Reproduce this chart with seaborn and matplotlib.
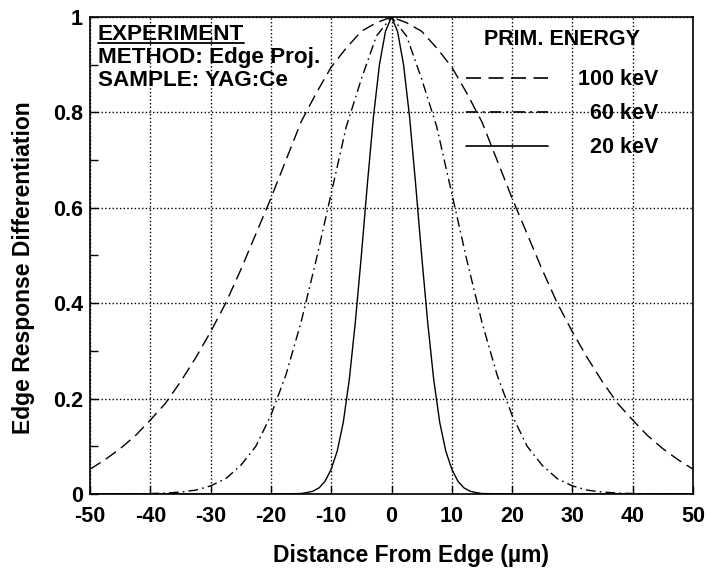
import matplotlib
matplotlib.use("Agg")
import matplotlib.pyplot as plt
import seaborn as sns
import pandas as pd
from matplotlib.lines import Line2D
from matplotlib.ticker import MultipleLocator

# ---- data ----
x_100 = [-50, -47.5, -45, -42.5, -40, -37.5, -35, -32.5, -30, -27.5, -25, -22.5, -20, -17.5, -15, -12.5, -10, -7.5, -5, -2.5,
         0, 2.5, 5, 7.5, 10, 12.5, 15, 17.5, 20, 22.5, 25, 27.5, 30, 32.5, 35, 37.5, 40, 42.5, 45, 47.5, 50]
y_100 = [0.052, 0.072, 0.095, 0.122, 0.155, 0.19, 0.235, 0.285, 0.34, 0.40, 0.47, 0.545, 0.62, 0.70, 0.78, 0.84, 0.895, 0.935, 0.97, 0.988,
         1.0, 0.988, 0.97, 0.935, 0.895, 0.84, 0.78, 0.70, 0.62, 0.545, 0.47, 0.40, 0.34, 0.285, 0.235, 0.19, 0.155, 0.122, 0.095, 0.072, 0.052]

x_60 = [-50, -45, -40, -37.5, -35, -32.5, -30, -27.5, -25, -22.5, -20, -17.5, -15, -12.5, -10, -7.5, -5, -2.5,
        0, 2.5, 5, 7.5, 10, 12.5, 15, 17.5, 20, 22.5, 25, 27.5, 30, 32.5, 35, 37.5, 40, 45, 50]
y_60 = [0.0, 0.0, 0.001, 0.002, 0.004, 0.008, 0.017, 0.032, 0.06, 0.10, 0.165, 0.25, 0.36, 0.49, 0.63, 0.77, 0.87, 0.96,
        1.0, 0.96, 0.87, 0.77, 0.63, 0.49, 0.36, 0.25, 0.165, 0.10, 0.06, 0.032, 0.017, 0.008, 0.004, 0.002, 0.001, 0.0, 0.0]

x_20 = [-50, -40, -30, -20, -15, -14, -13, -12, -11, -10, -9, -8, -7, -6, -5, -4, -3, -2, -1,
        0, 1, 2, 3, 4, 5, 6, 7, 8, 9, 10, 11, 12, 13, 14, 15, 20, 30, 40, 50]
y_20 = [0.0, 0.0, 0.0, 0.0, 0.001, 0.003, 0.006, 0.013, 0.027, 0.052, 0.09, 0.15, 0.24, 0.36, 0.5, 0.65, 0.79, 0.9, 0.97,
        1.0, 0.97, 0.9, 0.79, 0.65, 0.5, 0.36, 0.24, 0.15, 0.09, 0.052, 0.027, 0.013, 0.006, 0.003, 0.001, 0.0, 0.0, 0.0, 0.0]

labels = ["100 keV", "60 keV", "20 keV"]
legend_labels = ["100 keV", "\u200760 keV", "\u200720 keV"]

x_ticks = [-50, -40, -30, -20, -10, 0, 10, 20, 30, 40, 50]
y_ticks = [0, 0.2, 0.4, 0.6, 0.8, 1]
y_ticklabels = ["0", "0.2", "0.4", "0.6", "0.8", "1"]

df = pd.concat([
    pd.DataFrame({"x": x_100, "y": y_100, "energy": labels[0]}),
    pd.DataFrame({"x": x_60, "y": y_60, "energy": labels[1]}),
    pd.DataFrame({"x": x_20, "y": y_20, "energy": labels[2]}),
], ignore_index=True)

sns.set_style("ticks")
plt.rcParams["font.family"] = ["Liberation Sans", "DejaVu Sans"]
plt.rcParams["font.weight"] = "bold"
for k in ["text.color", "axes.labelcolor", "xtick.color", "ytick.color", "axes.edgecolor"]:
    plt.rcParams[k] = "black"

W, H = 707, 569
fig = plt.figure(figsize=(W / 100, H / 100), dpi=100)
ax = fig.add_axes([90 / W, 1 - 494 / H, 603 / W, 477 / H])

dash_styles = {
    labels[0]: (9, 4.5),
    labels[1]: (7, 3, 1.2, 3),
    labels[2]: "",
}
sns.lineplot(data=df, x="x", y="y", style="energy", style_order=labels, dashes=dash_styles,
             color="black", linewidth=1.0, estimator=None, sort=False, legend=False, ax=ax)

ax.set_xlim(-50, 50)
ax.set_ylim(0, 1)
ax.set_xticks(x_ticks)
ax.set_xticklabels([str(v) for v in x_ticks])
ax.set_yticks(y_ticks)
ax.set_yticklabels(y_ticklabels)
ax.yaxis.set_minor_locator(MultipleLocator(0.1))
ax.tick_params(axis="both", which="both", direction="in", colors="black", width=1.0)
ax.tick_params(axis="both", which="major", length=6, labelsize=15.5)
ax.tick_params(axis="y", which="major", pad=5)
ax.tick_params(axis="x", which="major", pad=9)
ax.tick_params(axis="y", which="minor", length=6)
for lab in ax.get_xticklabels() + ax.get_yticklabels():
    lab.set_fontweight("bold")

ax.grid(True, which="major", linestyle=":", color="black", linewidth=1.0)
for s in ax.spines.values():
    s.set_visible(True)
    s.set_color("black")
    s.set_linewidth(1.2)

ax.set_xlabel("Distance From Edge (\u00b5m)", fontsize=16.5, fontweight="bold")
ax.set_ylabel("Edge Response Differentiation", fontsize=16.5, fontweight="bold")
ax.xaxis.set_label_coords((411 - 90) / 603, (494 - 544) / 477)
ax.yaxis.set_label_coords((35 - 90) / 603, (494 - 268) / 477)

# annotation block
tfs = 16.2
t1 = ax.text(0.013, (494 - 40) / 477, "EXPERIMENT", transform=ax.transAxes, fontsize=tfs, fontweight="bold", va="baseline", ha="left")
ax.text(0.013, (494 - 63) / 477, "METHOD: Edge Proj.", transform=ax.transAxes, fontsize=tfs, fontweight="bold", va="baseline", ha="left")
ax.text(0.013, (494 - 86) / 477, "SAMPLE: YAG:Ce", transform=ax.transAxes, fontsize=tfs, fontweight="bold", va="baseline", ha="left")

# legend
lfs = 15.5
handles = [Line2D([], [], color="black", linewidth=1.2, dashes=dash_styles[labels[0]]),
           Line2D([], [], color="black", linewidth=1.2, dashes=dash_styles[labels[1]]),
           Line2D([], [], color="black", linewidth=1.2)]
leg = ax.legend(handles, legend_labels, title="PRIM. ENERGY", loc="upper left",
                bbox_to_anchor=((466 - 90) / 603, (494 - 29) / 477), frameon=False,
                fontsize=lfs, title_fontproperties={"weight": "bold", "size": lfs},
                handlelength=3.8, handletextpad=1.4, labelspacing=0.6, borderpad=0, borderaxespad=0)
for t in leg.get_texts():
    t.set_fontweight("bold")
leg._legend_box.sep = 14

# underline for EXPERIMENT
fig.canvas.draw()
bb = t1.get_window_extent()
y_ul = H - 43
fig.add_artist(Line2D([bb.x0 / W, bb.x1 / W], [y_ul / H, y_ul / H],
                      transform=fig.transFigure, color="black", linewidth=1.3))

fig.savefig("out.png", dpi=100)
